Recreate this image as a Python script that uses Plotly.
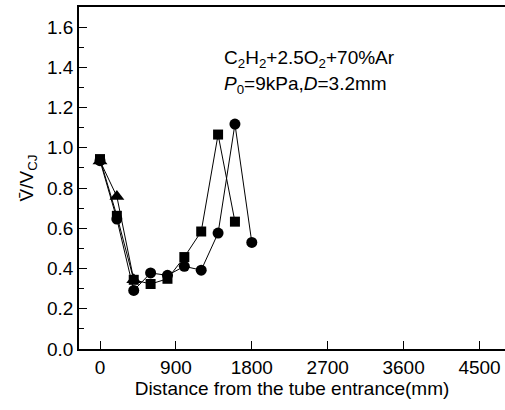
import plotly.graph_objects as go

# Data
x_sq = [0, 200, 400, 600, 800, 1000, 1200, 1400, 1600]
y_sq = [0.944, 0.662, 0.344, 0.323, 0.349, 0.457, 0.584, 1.066, 0.633]

x_ci = [0, 200, 400, 600, 800, 1000, 1200, 1400, 1600, 1800]
y_ci = [0.936, 0.646, 0.291, 0.378, 0.366, 0.411, 0.392, 0.576, 1.118, 0.530]

x_tr = [0, 200, 400]
y_tr = [0.935, 0.758, 0.344]

FONT = "Liberation Sans, Arial, sans-serif"

fig = go.Figure()
fig.add_trace(go.Scatter(x=x_tr, y=y_tr, mode="lines+markers",
                         line=dict(color="black", width=1),
                         marker=dict(symbol="triangle-up", size=13, color="black")))
fig.add_trace(go.Scatter(x=x_ci, y=y_ci, mode="lines+markers",
                         line=dict(color="black", width=1),
                         marker=dict(symbol="circle", size=11, color="black")))
fig.add_trace(go.Scatter(x=x_sq, y=y_sq, mode="lines+markers",
                         line=dict(color="black", width=1),
                         marker=dict(symbol="square", size=10, color="black")))

fig.update_xaxes(range=[-249, 4802], tickmode="linear", tick0=0, dtick=900,
                 ticks="inside", ticklen=8, tickwidth=1.3, tickcolor="black",
                 showline=True, linecolor="black", linewidth=1.5, mirror=True,
                 showgrid=False, zeroline=False,
                 minor=dict(ticks="inside", ticklen=5, tickwidth=1.3, tickcolor="black",
                            nticks=2, showgrid=False),
                 title=dict(text="Distance from the tube entrance(mm)",
                            font=dict(size=19), standoff=5),
                 tickfont=dict(size=19))
fig.update_yaxes(range=[0, 1.7], tickmode="linear", tick0=0, dtick=0.2, tickformat=".1f",
                 ticks="inside", ticklen=8, tickwidth=1.3, tickcolor="black",
                 showline=True, linecolor="black", linewidth=1.5,
                 showgrid=False, zeroline=False,
                 minor=dict(ticks="inside", ticklen=5, tickwidth=1.3, tickcolor="black",
                            nticks=2, showgrid=False),
                 title=dict(text="V\u0304/V<sub>CJ</sub>", font=dict(size=19),
                            standoff=8),
                 tickfont=dict(size=19))

fig.update_layout(
    width=505, height=410,
    margin=dict(l=79, r=0, t=7, b=61),
    paper_bgcolor="white", plot_bgcolor="white",
    showlegend=False,
    font=dict(family=FONT, size=19, color="black"),
)

fig.add_annotation(xref="x", yref="y", x=1450, y=1.44, xanchor="left",
                   text="C<sub>2</sub>H<sub>2</sub>+2.5O<sub>2</sub>+70%Ar",
                   showarrow=False, font=dict(size=19))
fig.add_annotation(xref="x", yref="y", x=1450, y=1.31, xanchor="left",
                   text="<i>P</i><sub>0</sub>=9kPa,<i>D</i>=3.2mm",
                   showarrow=False, font=dict(size=19))

fig.write_html("out.html")
